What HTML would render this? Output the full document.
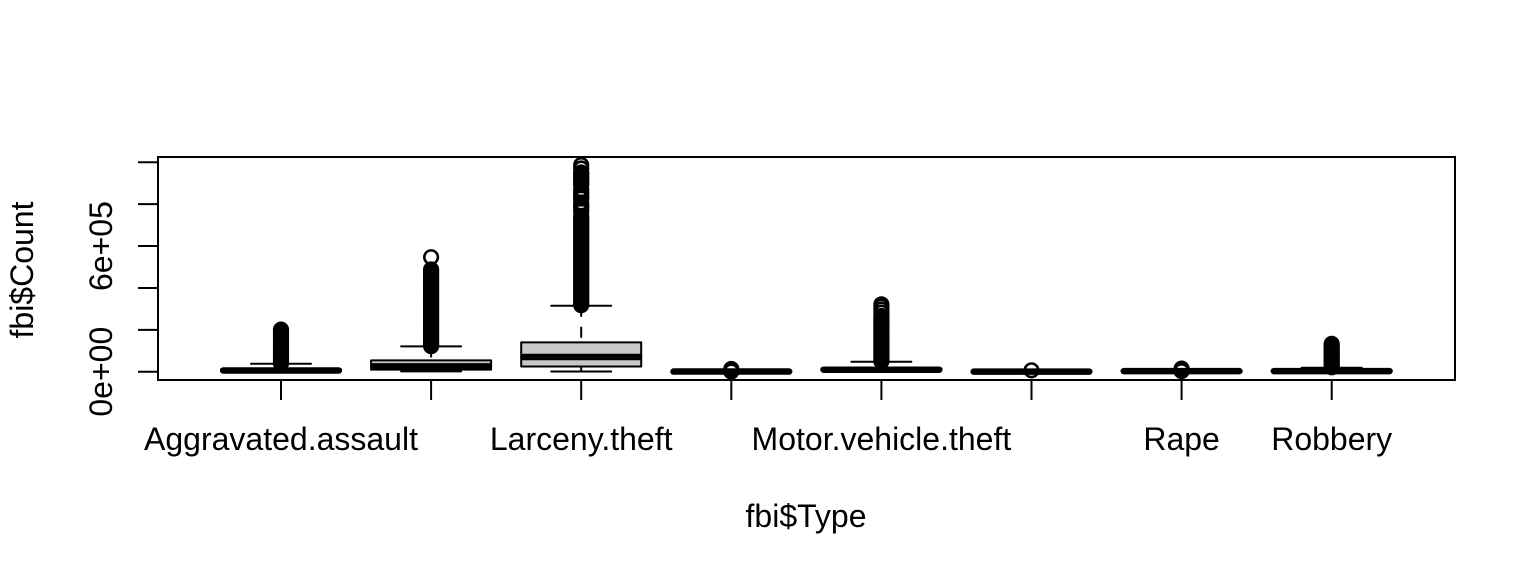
<!DOCTYPE html>
<html lang="en">
<head>
<meta charset="utf-8">
<title>Boxplot of fbi$Count by fbi$Type</title>
<style>
html,body{margin:0;padding:0;background:#fff;width:1536px;height:576px;overflow:hidden}
svg{display:block}
text{font-family:"Liberation Sans",Arial,sans-serif;font-size:32px;fill:#000}
</style>
</head>
<body>
<svg id="chart" xmlns="http://www.w3.org/2000/svg" width="1536" height="576" viewBox="0 0 1536 576">
  <rect x="0" y="0" width="1536" height="576" fill="#fff"/>
  <g id="marks"></g>
  <rect x="158" y="157" width="1297" height="223" fill="none" stroke="#000" stroke-width="2"/>
  <g id="axes"></g>
  <text x="806" y="527" text-anchor="middle">fbi$Type</text>
  <text transform="translate(33 270) rotate(-90)" text-anchor="middle">fbi$Count</text>
</svg>
<script>
const categories = ["Aggravated.assault","Burglary","Larceny.theft","Legacy.rape","Motor.vehicle.theft","Murder","Rape","Robbery"];
const xTickLabels = ["Aggravated.assault","","Larceny.theft","","Motor.vehicle.theft","","Rape","Robbery"];
const yTickValues = [0,200000,400000,600000,800000,1000000];
const yTickLabels = ["0e+00","","","6e+05","",""];

const whiskerLow = [0,1500,1000,0,100,0,0,0];
const quartile1 = [2000,10000,25000,0,6000,0,1000,1000];
const medians = [6000,25300,70000,800,9500,300,2800,3000];
const quartile3 = [11000,54000,140000,1500,15000,500,4000,5500];
const whiskerHigh = [38000,121000,315000,3000,47800,800,8000,19000];

const outliersAssault = [201000,194000,187000,180000,174000,166000,159000,152000,145000,138000,131000,124000,117000,110000,103000,96000,89000,82000,75000,68000,61000,54000,47000,40000];
const outliersBurglary = [546900,488000,479000,471000,462000,454000,446000,438000,430000,421000,413000,405000,396000,388000,380000,372000,364000,355000,347000,339000,331000,322000,314000,306000,298000,290000,281000,273000,265000,257000,249000,240000,232000,224000,216000,208000,199000,191000,183000,175000,167000,158000,150000,142000,134000,128000,122000];
const outliersLarceny = [987200,970500,951400,944200,934700,925100,915600,906000,898800,891700,870200,858300,846300,834400,827200,808100,796200,786600,777000,765100,743600,734100,726000,718000,709000,701000,692000,684000,676000,667000,659000,651000,643000,634000,626000,618000,610000,601000,593000,585000,577000,568000,560000,552000,544000,535000,527000,519000,511000,502000,494000,486000,478000,470000,461000,453000,445000,437000,429000,420000,412000,404000,396000,388000,379000,371000,363000,355000,347000,339000,331000,322000,318000];
const outliersLegacyRape = [13000,1000];
const outliersMotor = [321700,311400,297000,282000,266000,256000,248000,240000,232000,224000,216000,208000,200000,192000,184000,176000,168000,160000,152000,144000,136000,128000,120000,112000,104000,96000,88000,80000,72000,64000,56000,50000];
const outliersMurder = [6700];
const outliersRape = [15000,3000];
const outliersRobbery = [133000,126000,118000,110000,103000,95000,88000,80000,72000,65000,57000,50000,42000,35000,27000,21000];

const outlierSeries = [outliersAssault,outliersBurglary,outliersLarceny,outliersLegacyRape,outliersMotor,outliersMurder,outliersRape,outliersRobbery];

const NS = "http://www.w3.org/2000/svg";
const marks = document.getElementById("marks");
const axes = document.getElementById("axes");

function xScale(i){ return 281 + i * 150.1; }
function yScale(v){ return 371.7 - v * 0.0002094; }

function make(parent, tag, attrs){
  const el = document.createElementNS(NS, tag);
  for (const k in attrs) el.setAttribute(k, attrs[k]);
  parent.appendChild(el);
  return el;
}
const lineStyle = {stroke:"#000","stroke-width":2,"stroke-linecap":"round"};

categories.forEach(function(cat, i){
  const x = xScale(i);
  const g = make(marks, "g", {});
  
  
  g.setAttribute('aria-label', cat);

  const upper = make(g, "line", Object.assign({x1:x,x2:x,y1:yScale(whiskerHigh[i]),y2:yScale(quartile3[i]),"stroke-dasharray":"11 10"}, lineStyle, {"stroke-linecap":"butt"}));
  
  

  const lower = make(g, "line", Object.assign({x1:x,x2:x,y1:yScale(whiskerLow[i]),y2:yScale(quartile1[i]),"stroke-dasharray":"11 10"}, lineStyle, {"stroke-linecap":"butt"}));
  
  

  const capHigh = make(g, "line", Object.assign({x1:x-30,x2:x+30,y1:yScale(whiskerHigh[i]),y2:yScale(whiskerHigh[i])}, lineStyle));
  
  

  const capLow = make(g, "line", Object.assign({x1:x-30,x2:x+30,y1:yScale(whiskerLow[i]),y2:yScale(whiskerLow[i])}, lineStyle));
  
  

  const top = yScale(quartile3[i]);
  const bottom = yScale(quartile1[i]);
  const box = make(g, "rect", {x:x-60,y:top,width:120,height:Math.max(bottom-top,0.1),fill:"#c9c9c9",stroke:"#000","stroke-width":2,"stroke-linejoin":"round"});
  
  

  const med = make(g, "line", {x1:x-57.8,x2:x+57.8,y1:yScale(medians[i]),y2:yScale(medians[i]),stroke:"#000","stroke-width":6.5,"stroke-linecap":"round"});
  
  

  outlierSeries[i].forEach(function(v){
    const c = make(g, "circle", {cx:x,cy:yScale(v),r:6.8,fill:"none",stroke:"#000","stroke-width":2.6});
    
    
  });
});

xTickLabels.forEach(function(label, i){
  const x = xScale(i);
  const t = make(axes, "line", {x1:x,x2:x,y1:380,y2:400,stroke:"#000","stroke-width":2});
  
  
  if (label) {
    const l = make(axes, "text", {x:x,y:450,"text-anchor":"middle"});
    l.textContent = label;
    
    
  }
});

yTickValues.forEach(function(v, i){
  const y = yScale(v);
  const t = make(axes, "line", {x1:138,x2:158,y1:y,y2:y,stroke:"#000","stroke-width":2});
  
  
  if (yTickLabels[i]) {
    const l = make(axes, "text", {transform:"translate(112 " + y + ") rotate(-90)","text-anchor":"middle"});
    l.textContent = yTickLabels[i];
    
    
  }
});
</script>
</body>
</html>
